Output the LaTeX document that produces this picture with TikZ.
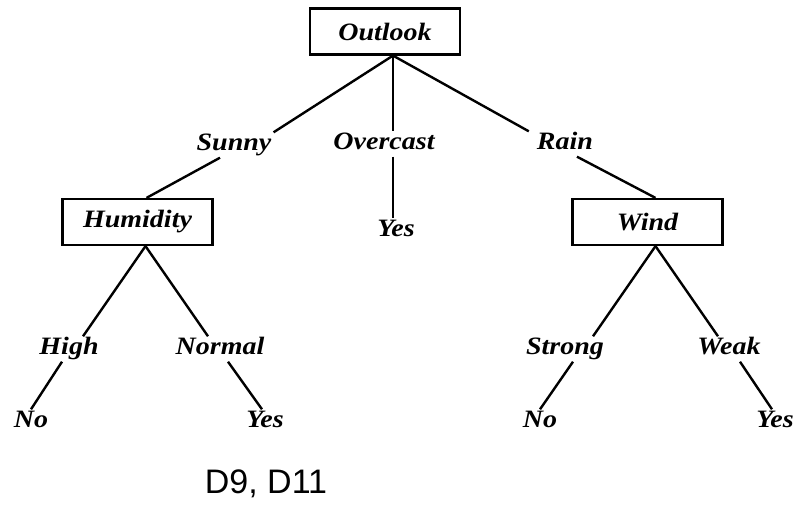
\documentclass[tikz,border=0pt]{standalone}
\usepackage{fontspec}
\setmainfont{Liberation Serif}
\newfontfamily\treefont[FakeStretch=1.12]{Liberation Serif}
\newfontfamily\notefont{Liberation Sans}

\tikzset{
	attr/.style={draw, line width=2.2pt, minimum width=150pt, minimum height=46pt,
		inner sep=0pt, font=\treefont\fontsize{25}{29}\selectfont\bfseries\itshape},
	val/.style={inner sep=2pt, text height=16pt, text depth=5pt,
		font=\treefont\fontsize{25}{29}\selectfont\bfseries\itshape},
	note/.style={inner sep=0pt, font=\notefont\fontsize{34}{39}\selectfont},
	branch/.style={line width=2.4pt}
}

\begin{document}
\begin{tikzpicture}[x=1pt, y=-1pt]
	\useasboundingbox (0,0) rectangle (794,504);
	%%% tests
	\node[attr] (outlook) at (385,31.5) {Outlook};
	\node[attr] (humidity) at (137.5,222) {Humidity};
	\node[attr] (wind) at (647.5,222) {Wind};
	%%% branch values
	\node[val] (sunny) at (234,145) {Sunny};
	\node[val] (overcast) at (384,144) {Overcast};
	\node[val] (rain) at (565,144) {Rain};
	\node[val] (high) at (69,349) {High};
	\node[val] (normal) at (220,349) {Normal};
	\node[val] (strong) at (565,349) {Strong};
	\node[val] (weak) at (729,349) {Weak};
	%%% leaves
	\node[val] (yesO) at (396,231) {Yes};
	\node[val] (noH) at (31,422) {No};
	\node[val] (yesN) at (265,422) {Yes};
	\node[val] (noS) at (540,422) {No};
	\node[val] (yesW) at (775,422) {Yes};
	\node[note] (days) at (266,484) {D9, D11};
	
	\coordinate (root) at ([xshift=8pt]outlook.south);
	\coordinate (hroot) at ([xshift=8pt]humidity.south);
	\coordinate (wroot) at ([xshift=8pt]wind.south);
	
	\draw[branch] (root) -- (sunny.north east);
	\draw[branch] (root) -- (root |- overcast.north);
	\draw[branch] (root) -- ([xshift=-6pt]rain.north west);
	\draw[branch] ([xshift=-14pt]sunny.south) -- ([xshift=9pt]humidity.north);
	\draw[branch] (root |- overcast.south) -- (root |- yesO.north);
	\draw[branch] ([xshift=12pt]rain.south) -- ([xshift=8pt]wind.north);
	
	\draw[branch] (hroot) -- ([xshift=14pt]high.north);
	\draw[branch] (hroot) -- ([xshift=-12pt]normal.north);
	\draw[branch] ([xshift=-7pt]high.south) -- (noH.north);
	\draw[branch] ([xshift=8pt]normal.south) -- ([xshift=-3pt]yesN.north);
	
	\draw[branch] (wroot) -- ([xshift=28pt]strong.north);
	\draw[branch] (wroot) -- ([xshift=-11pt]weak.north);
	\draw[branch] ([xshift=8pt]strong.south) -- (noS.north);
	\draw[branch] ([xshift=11pt]weak.south) -- ([xshift=-3pt]yesW.north);
\end{tikzpicture}
\end{document}
